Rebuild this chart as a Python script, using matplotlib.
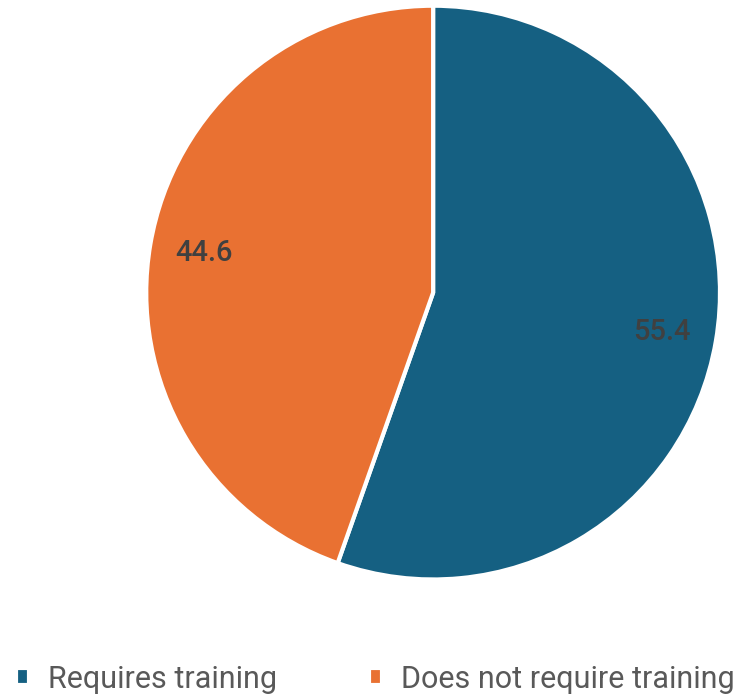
import matplotlib.pyplot as plt

labels = ["Requires training", "Does not require training"]
values = [55.4, 44.6]
colors = ["#156082", "#E97132"]

plt.rcParams["font.family"] = ["Roboto", "DejaVu Sans"]

fig = plt.figure(figsize=(7.5, 7), dpi=100)
ax = fig.add_axes([0.195, 0.172, 0.765, 0.82])

wedges, texts, autotexts = ax.pie(
    values,
    colors=colors,
    startangle=90,
    counterclock=False,
    autopct=lambda p: f"{p:.1f}",
    pctdistance=0.81,
    wedgeprops=dict(edgecolor="white", linewidth=3),
    textprops=dict(color="#404040", fontsize=21, fontweight="medium"),
)
ax.set_xlim(-1.0, 1.0)
ax.set_ylim(-1.0, 1.0)
ax.set_aspect("equal")

fig.legend(
    wedges,
    labels,
    loc="center",
    bbox_to_anchor=(0.5, 0.03),
    ncol=2,
    frameon=False,
    fontsize=22,
    labelcolor="#595959",
    handlelength=0.45,
    handleheight=0.45,
    handletextpad=0.6,
    columnspacing=3.0,
)

fig.savefig("out.png", dpi=100)
